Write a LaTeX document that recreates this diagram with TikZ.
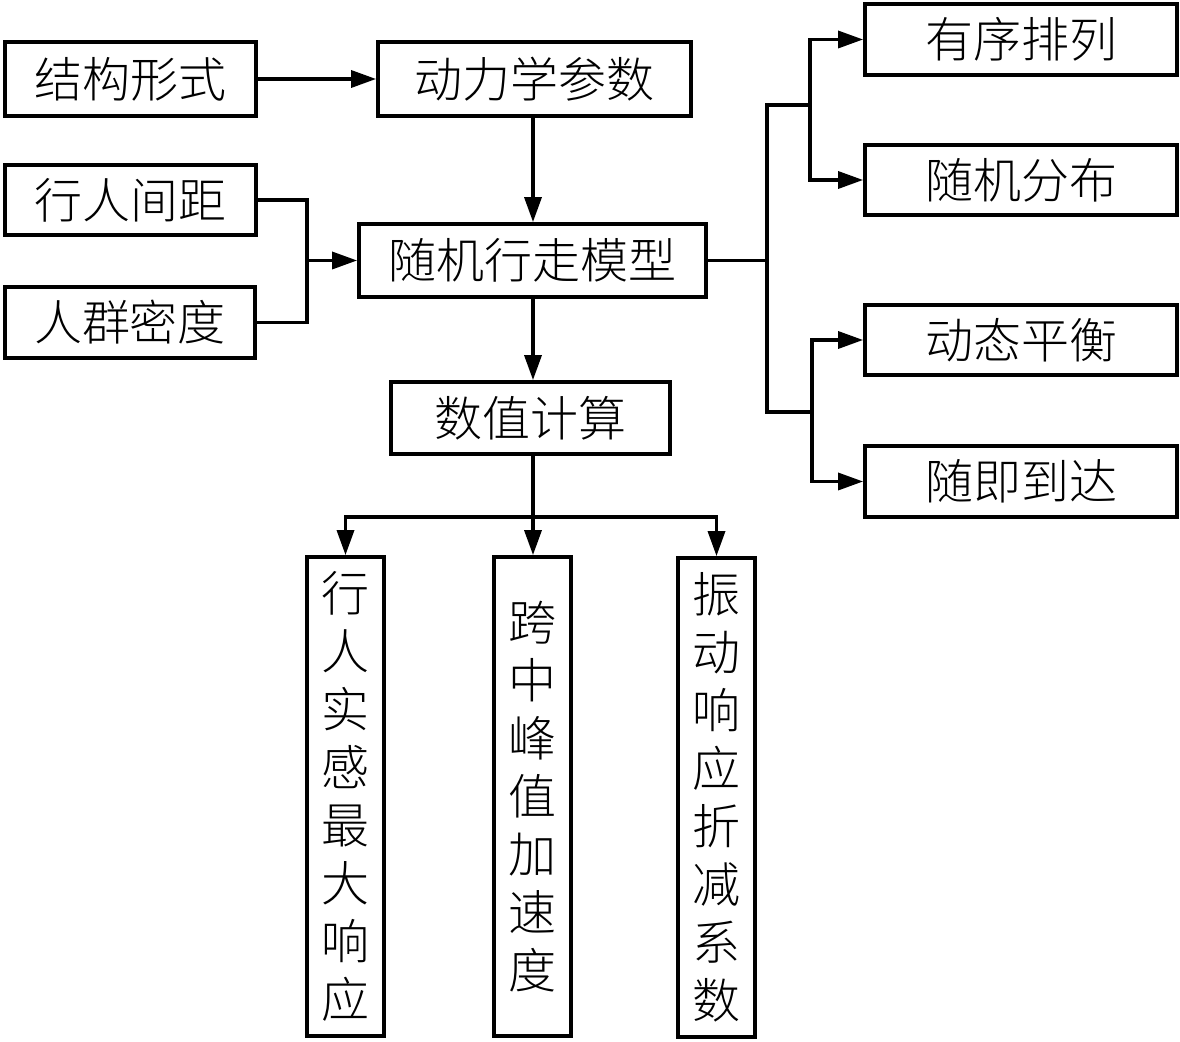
\documentclass[tikz,border=0pt]{standalone}
\usepackage{fontspec}
\setmainfont{Noto Sans CJK SC Light}
\usetikzlibrary{arrows.meta}
\begin{document}
\begin{tikzpicture}[x=0.5pt,y=-0.5pt,
  box/.style={draw,line width=1.9pt,inner sep=0pt,font=\fontsize{24pt}{29pt}\selectfont},
  hbox/.style={box,minimum height=36pt},
  vbox/.style={box,minimum width=38.5pt,minimum height=239.5pt,align=center},
  conn/.style={line width=1.7pt},
  arr/.style={conn,-{Triangle[length=12.5pt,width=8.5pt]}}]
\useasboundingbox (0,0) rectangle (1180,1042);
% left inputs
\node[hbox,minimum width=125.5pt,minimum height=37pt] (jg) at (130.5,79) {结构形式};
\node[hbox,minimum width=156.5pt,minimum height=37pt] (dl) at (534.5,79) {动力学参数};
\node[hbox,minimum width=125.5pt,minimum height=35pt] (xr) at (130.5,200) {行人间距};
\node[hbox,minimum width=125pt,minimum height=35.5pt] (rq) at (130,322.5) {人群密度};
\node[hbox,minimum width=173.5pt,minimum height=36.5pt] (sj) at (532.5,260.5) {随机行走模型};
\node[hbox,minimum width=139.5pt,minimum height=36pt] (sz) at (530.5,418) {数值计算};
% right outputs
\node[hbox,minimum width=156pt,minimum height=35.5pt] (r1) at (1021,39.5) {有序排列};
\node[hbox,minimum width=156pt,minimum height=35pt] (r2) at (1021,180) {随机分布};
\node[hbox,minimum width=156pt,minimum height=35pt] (r3) at (1021,340) {动态平衡};
\node[hbox,minimum width=156pt,minimum height=35.5pt] (r4) at (1021,481.5) {随即到达};
% bottom results
\node[vbox] (v1) at (345.5,796.5) {行\\人\\实\\感\\最\\大\\响\\应};
\node[vbox] (v2) at (532.5,796.5) {跨\\中\\峰\\值\\加\\速\\度};
\node[vbox] (v3) at (716.5,797.5) {振\\动\\响\\应\\折\\减\\系\\数};
% coordinates
\coordinate (m1) at (307,260.5);
\coordinate (m2) at (767,260.5);
\coordinate (t1) at (767,105);
\coordinate (t2) at (767,412);
\coordinate (b1) at (810,105);
\coordinate (b2) at (812,412);
\coordinate (f) at (533,517);
% connectors
\draw[arr] (jg) -- (dl);
\draw[arr] (dl.south -| 533,0) -- (sj.north -| 533,0);
\draw[conn] (xr.east) -| (m1) |- (rq.east);
\draw[arr] (m1) -- (sj.west);
\draw[arr] (sj.south -| 533,0) -- (sz.north -| 533,0);
\draw[conn] (sj.east) -- (m2);
\draw[conn] (b1) -- (t1) -- (t2) -- (b2);
\draw[arr] (b1) |- (r1.west);
\draw[arr] (b1) |- (r2.west);
\draw[arr] (b2) |- (r3.west);
\draw[arr] (b2) |- (r4.west);
\draw[arr] (sz.south -| f) -- (v2.north -| f);
\draw[arr] (f) -| (v1.north);
\draw[arr] (f) -| (v3.north);
\end{tikzpicture}
\end{document}
